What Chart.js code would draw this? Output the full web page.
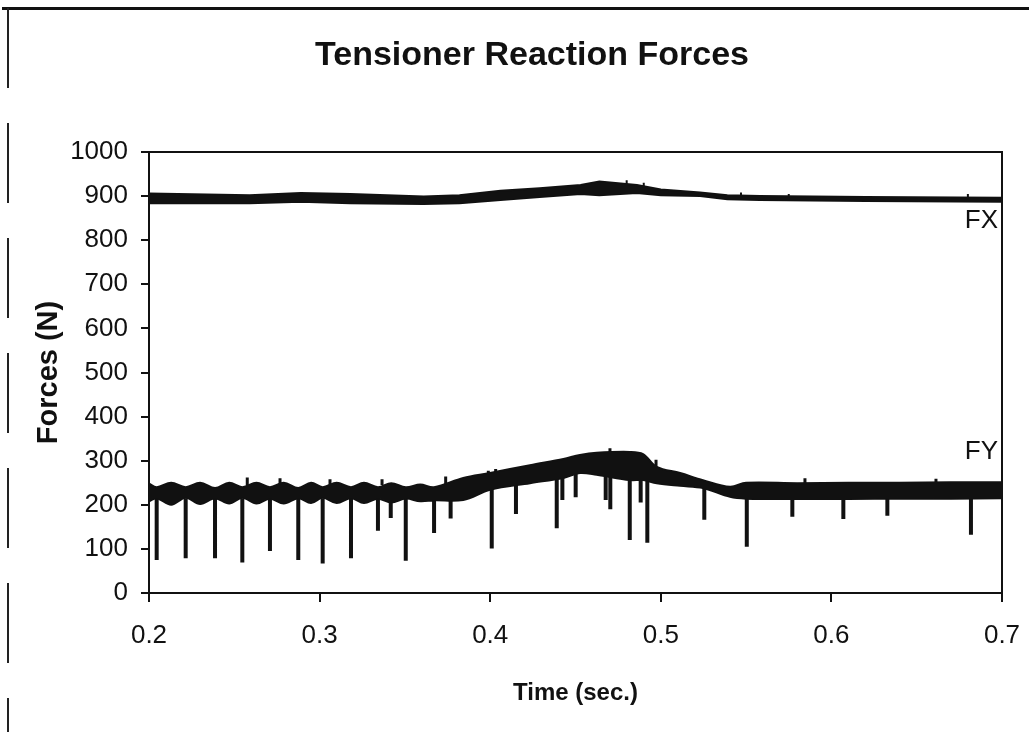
<!DOCTYPE html>
<html lang="en">
<head>
    <meta charset="UTF-8">
    <title>Tensioner Reaction Forces</title>
    <script src="https://cdn.jsdelivr.net/npm/chart.js"></script>
    <style>
        html, body {
            margin: 0;
            padding: 0;
            background: #fff;
            overflow: hidden;
        }
        .page {
            position: relative;
            width: 1029px;
            height: 732px;
        }
        /* scanned sheet edges */
        .edge-top {
            position: absolute;
            left: 2px;
            top: 7px;
            width: 1027px;
            border-top: 3px solid #111;
        }
        .edge-left {
            position: absolute;
            left: 7px;
            top: 8px;
            width: 2px;
            height: 724px;
            background: repeating-linear-gradient(to bottom, #222 0 80px, transparent 80px 115px);
        }
        canvas {
            position: absolute;
            left: 0;
            top: 0;
        }
    </style>
</head>
<body>
<div class="page">
    <div class="edge-top"></div>
    <div class="edge-left"></div>
    <canvas id="forces" width="1029" height="732"></canvas>
</div>
<script>
    // FX band (upper / lower edge of the thick trace), N
    const fxTime = [0.200, 0.259, 0.289, 0.318, 0.361, 0.382, 0.406, 0.429, 0.453, 0.464, 0.486, 0.500, 0.523, 0.539, 0.558, 0.620, 0.700];
    const fxHigh = [906, 902, 907, 905, 899, 902, 912, 918, 925, 933, 925, 915, 908, 902, 900, 898, 896];
    const fxLow  = [884, 884, 887, 884, 882, 884, 891, 898, 905, 902, 907, 902, 900, 893, 891, 889, 887];

    // small upward glitches on FX
    const fxPeakTime = [0.480, 0.490, 0.547, 0.575, 0.680];
    const fxPeakFrom = [920, 918, 902, 899, 896];
    const fxPeakTo   = [936, 930, 908, 905, 905];

    // FY band (upper / lower edge), N
    const fyTime = [0.200, 0.2045, 0.213, 0.2215, 0.230, 0.2387, 0.247, 0.2547, 0.263, 0.2709, 0.279, 0.2875,
                    0.295, 0.3018, 0.310, 0.3184, 0.326, 0.3342, 0.342, 0.3505, 0.359, 0.3671, 0.3842, 0.3999,
                    0.4233, 0.4429, 0.4526, 0.4624, 0.4819, 0.4896, 0.4976, 0.5113, 0.5247, 0.5406, 0.550,
                    0.580, 0.610, 0.640, 0.670, 0.700];
    const fyHigh = [248, 240, 250, 240, 250, 238, 250, 240, 250, 240, 250, 238,
                    250, 240, 250, 240, 250, 240, 249, 240, 246, 240, 261, 272,
                    290, 304, 313, 318, 320, 315, 286, 272, 256, 241, 250,
                    249, 250, 250, 251, 251];
    const fyLow  = [208, 215, 200, 216, 202, 215, 203, 216, 203, 214, 203, 215,
                    204, 216, 204, 215, 204, 214, 205, 214, 208, 210, 211, 234,
                    249, 261, 272, 268, 256, 256, 249, 243, 238, 218, 214,
                    213, 213, 214, 214, 215];

    // downward spikes on FY: time, start, lowest value
    const fyDropTime = [0.2045, 0.2215, 0.2387, 0.2547, 0.2709, 0.2875, 0.3018, 0.3184, 0.3342, 0.3417, 0.3505, 0.3671,
                        0.3768, 0.4009, 0.4151, 0.4390, 0.4423, 0.4501, 0.4677, 0.4704, 0.4818, 0.4882, 0.4921, 0.5255,
                        0.5504, 0.5771, 0.6070, 0.6328, 0.6818];
    const fyDropFrom = [215, 215, 215, 215, 215, 215, 215, 215, 215, 215, 215, 212,
                        215, 240, 250, 262, 262, 272, 270, 268, 260, 258, 258, 240,
                        218, 218, 218, 218, 218];
    const fyDropTo   = [75, 79, 79, 69, 95, 75, 67, 79, 141, 170, 73, 136,
                        169, 101, 179, 147, 211, 217, 211, 190, 120, 205, 114, 166,
                        105, 173, 168, 175, 132];

    // small upward spikes on FY
    const fyPeakTime = [0.2576, 0.2768, 0.3061, 0.3366, 0.3739, 0.3989, 0.4032, 0.4702, 0.4972, 0.5845, 0.6613];
    const fyPeakFrom = [245, 245, 245, 245, 240, 265, 268, 300, 285, 248, 248];
    const fyPeakTo   = [262, 260, 258, 258, 264, 277, 281, 328, 302, 260, 259];

    // series tags written at the right edge
    const tagText = ['FX', 'FY'];
    const tagValue = [843, 320];

    const xTicks = [0.2, 0.3, 0.4, 0.5, 0.6, 0.7];

    const ink = '#111';
    const font = "'Liberation Sans', Arial, sans-serif";

    function band(times, vals) {
        return times.map((t, i) => ({ x: t, y: vals[i] }));
    }

    // vertical strokes separated by gaps
    function strokes(times, from, to) {
        const pts = [];
        times.forEach((t, i) => {
            pts.push({ x: t, y: from[i] });
            pts.push({ x: t, y: to[i] });
            pts.push({ x: t, y: null });
        });
        return pts;
    }

    const boxAndTags = {
        id: 'boxAndTags',
        afterDatasetsDraw(chart) {
            const { ctx, chartArea: a, scales } = chart;
            ctx.save();
            ctx.strokeStyle = ink;
            ctx.lineWidth = 2;
            ctx.strokeRect(a.left, a.top, a.right - a.left, a.bottom - a.top);
            ctx.fillStyle = ink;
            ctx.font = '26px ' + font;
            ctx.textAlign = 'right';
            ctx.textBaseline = 'middle';
            tagText.forEach((txt, i) => {
                ctx.fillText(txt, a.right - 4, scales.y.getPixelForValue(tagValue[i]));
            });
            ctx.restore();
        }
    };

    const ctx = document.getElementById('forces').getContext('2d');

    new Chart(ctx, {
        type: 'line',
        data: {
            datasets: [
                { data: band(fxTime, fxHigh), borderColor: ink, backgroundColor: ink, borderWidth: 2, fill: '+1' },
                { data: band(fxTime, fxLow), borderColor: ink, borderWidth: 2, fill: false },
                { data: strokes(fxPeakTime, fxPeakFrom, fxPeakTo), borderColor: ink, borderWidth: 2, fill: false, spanGaps: false },
                { data: band(fyTime, fyHigh), borderColor: ink, backgroundColor: ink, borderWidth: 2, fill: '+1', tension: 0.35 },
                { data: band(fyTime, fyLow), borderColor: ink, borderWidth: 2, fill: false, tension: 0.35 },
                { data: strokes(fyDropTime, fyDropFrom, fyDropTo), borderColor: ink, borderWidth: 4, fill: false, spanGaps: false },
                { data: strokes(fyPeakTime, fyPeakFrom, fyPeakTo), borderColor: ink, borderWidth: 3, fill: false, spanGaps: false }
            ]
        },
        options: {
            responsive: false,
            animation: false,
            layout: { padding: { left: 62, right: 27, top: 0, bottom: 0 } },
            elements: {
                point: { radius: 0, hoverRadius: 0 },
                line: { tension: 0, borderCapStyle: 'butt' }
            },
            plugins: {
                legend: { display: false },
                tooltip: { enabled: false },
                title: {
                    display: true,
                    text: 'Tensioner Reaction Forces',
                    color: ink,
                    font: { family: font, size: 34, weight: 'bold' },
                    padding: { top: 35.6, bottom: 75.6 }
                }
            },
            scales: {
                x: {
                    type: 'linear',
                    min: 0.2,
                    max: 0.7,
                    afterBuildTicks: s => { s.ticks = xTicks.map(v => ({ value: v })); },
                    afterFit: s => { s.height = 139; s.paddingLeft = 0; s.paddingRight = 0; },
                    ticks: {
                        color: ink,
                        font: { family: font, size: 26 },
                        padding: 18,
                        maxRotation: 0,
                        callback: v => v.toFixed(1)
                    },
                    grid: { drawOnChartArea: false, drawTicks: true, tickLength: 9, color: ink, lineWidth: 2 },
                    border: { color: ink, width: 2 },
                    title: {
                        display: true,
                        text: 'Time (sec.)',
                        color: ink,
                        font: { family: font, size: 24, weight: 'bold' },
                        padding: { top: 4, bottom: 24.6 }
                    }
                },
                y: {
                    min: 0,
                    max: 1000,
                    afterFit: s => { s.width = 87; },
                    ticks: {
                        stepSize: 100,
                        color: ink,
                        font: { family: font, size: 26 },
                        padding: 13,
                        callback: v => String(v)
                    },
                    grid: { drawOnChartArea: false, drawTicks: true, tickLength: 8, color: ink, lineWidth: 2 },
                    border: { color: ink, width: 2 },
                    title: {
                        display: true,
                        text: 'Forces (N)',
                        color: ink,
                        font: { family: font, size: 29, weight: 'bold' },
                        padding: { top: -30.4, bottom: 4 }
                    }
                }
            }
        },
        plugins: [boxAndTags]
    });
</script>
</body>
</html>
